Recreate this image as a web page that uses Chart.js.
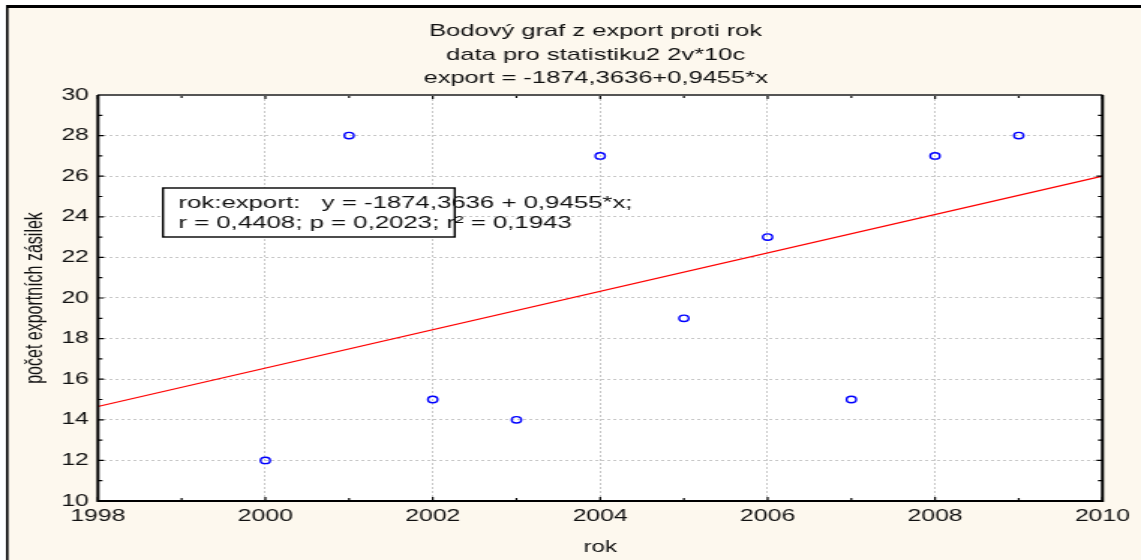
<!DOCTYPE html>
<html>
<head>
<meta charset="utf-8">
<script src="https://cdn.jsdelivr.net/npm/chart.js@4"></script>
<style>
html, body { margin: 0; padding: 0; background: #fff; overflow: hidden; }
/* the original picture is stretched sideways, so the chart is drawn narrow and scaled */
#wrap { width: 761px; height: 560px; transform: scaleX(1.49934); transform-origin: 0 0; }
</style>
</head>
<body>
<div id="wrap"><canvas id="chart"></canvas></div>
<script>
const years = [2000, 2001, 2002, 2003, 2004, 2005, 2006, 2007, 2008, 2009];
const exportCounts = [12, 28, 15, 14, 27, 19, 23, 15, 27, 28];
const xRange = [1998, 2010];
const yRange = [10, 30];
const titleLines = [
    'Bodový graf z export proti rok',
    'data pro statistiku2 2v*10c',
    'export = -1874,3636+0,9455*x'
];
const statLines = [
    'rok:export:   y = -1874,3636 + 0,9455*x;',
    'r = 0,4408; p = 0,2023; r² = 0,1943'
];
const FONT = "'Liberation Sans', Arial, sans-serif";

// least squares fit of the points
var n = years.length;
var mx = years.reduce((a, b) => a + b, 0) / n;
var my = exportCounts.reduce((a, b) => a + b, 0) / n;
var sxy = 0, sxx = 0;
for (var i = 0; i < n; i++) {
    sxy += (years[i] - mx) * (exportCounts[i] - my);
    sxx += (years[i] - mx) * (years[i] - mx);
}
var slope = sxy / sxx;
var intercept = my - slope * mx;
var fitLine = xRange.map(x => ({x: x, y: intercept + slope * x}));

const framePlugin = {
    id: 'frame',
    afterLayout(chart) {
        // title is centred over the plot, not the whole canvas
        const a = chart.chartArea;
        if (chart.titleBlock) {
            chart.titleBlock.left = a.left - 6;
            chart.titleBlock.right = a.right;
        }
    },
    beforeDraw(chart) {
        const c = chart.ctx;
        c.save();
        c.fillStyle = '#ffffff';
        c.fillRect(0, 0, chart.width, chart.height);
        c.fillStyle = '#fdf8ee';
        c.fillRect(4, 5, chart.width, chart.height);
        c.fillStyle = '#000';
        c.fillRect(4, 5, 1.6, chart.height);
        c.fillRect(4, 5, chart.width, 3);
        const a = chart.chartArea;
        c.fillStyle = '#ffffff';
        c.fillRect(a.left, a.top, a.right - a.left, a.bottom - a.top);
        c.restore();
    },
    beforeDatasetsDraw(chart) {
        // statistics box
        const c = chart.ctx;
        c.save();
        c.fillStyle = '#ffffff';
        c.fillRect(108.7, 188, 194.6, 49);
        c.strokeStyle = '#000';
        c.lineWidth = 1.4;
        c.strokeRect(108.7, 188, 194.6, 49);
        c.fillStyle = '#111';
        c.font = '17.2px ' + FONT;
        c.textBaseline = 'middle';
        c.fillText(statLines[0], 119, 203);
        c.fillText(statLines[1], 119, 223);
        c.restore();
    },
    afterDraw(chart) {
        const c = chart.ctx;
        const a = chart.chartArea;
        const xs = chart.scales.x, ys = chart.scales.y;
        c.save();
        c.strokeStyle = '#000';
        c.lineWidth = 1.2;
        c.beginPath();
        for (var v = xRange[0]; v <= xRange[1]; v++) {
            var px = xs.getPixelForValue(v);
            var len = (v % 2 === 0) ? 4 : 3;
            c.moveTo(px, a.bottom); c.lineTo(px, a.bottom - len);
            c.moveTo(px, a.top); c.lineTo(px, a.top + len);
        }
        for (var w = yRange[0]; w <= yRange[1]; w++) {
            var py = ys.getPixelForValue(w);
            var l2 = (w % 2 === 0) ? 4 : 3;
            c.moveTo(a.left, py); c.lineTo(a.left + l2, py);
            c.moveTo(a.right, py); c.lineTo(a.right - l2, py);
        }
        c.stroke();
        // plot box
        c.lineWidth = 2;
        c.strokeStyle = '#555';
        c.beginPath();
        c.moveTo(a.left, a.top); c.lineTo(a.right, a.top);
        c.stroke();
        c.strokeStyle = '#000';
        c.beginPath();
        c.moveTo(a.left, a.top); c.lineTo(a.left, a.bottom); c.lineTo(a.right, a.bottom); c.lineTo(a.right, a.top);
        c.stroke();
        c.restore();
    }
};

new Chart(document.getElementById('chart'), {
    type: 'scatter',
    data: {
        datasets: [{
            data: years.map((y, i) => ({x: y, y: exportCounts[i]})),
            pointStyle: 'circle',
            pointRadius: 3.2,
            borderWidth: 1.4,
            borderColor: '#0000ff',
            backgroundColor: 'rgba(0,0,0,0)'
        }, {
            type: 'line',
            data: fitLine,
            borderColor: '#ff0000',
            borderWidth: 1.3,
            pointRadius: 0,
            fill: false
        }]
    },
    options: {
        responsive: true,
        maintainAspectRatio: false,
        animation: false,
        events: [],
        layout: { padding: { left: 0, right: 25.7, top: 0, bottom: 0 } },
        plugins: {
            legend: { display: false },
            tooltip: { enabled: false },
            title: {
                display: true,
                text: titleLines,
                color: '#111',
                font: { family: FONT, size: 17, weight: 'normal', lineHeight: 1.38 },
                padding: { top: 20, bottom: 4.6 }
            }
        },
        scales: {
            x: {
                type: 'linear',
                min: xRange[0], max: xRange[1],
                ticks: {
                    stepSize: 2,
                    color: '#111',
                    padding: 6,
                    maxRotation: 0,
                    font: { family: FONT, size: 16.5 },
                    callback: v => String(v)
                },
                grid: { color: '#c8c8c8', lineWidth: 1, drawTicks: false },
                border: { display: false, dash: [2, 2] },
                title: {
                    display: true, text: 'rok', color: '#111',
                    font: { family: FONT, size: 16 },
                    padding: { top: 0, bottom: 2.4 }
                },
                afterFit: s => { s.height = 59; }
            },
            y: {
                min: yRange[0], max: yRange[1],
                ticks: {
                    stepSize: 2,
                    color: '#111',
                    padding: 6,
                    font: { family: FONT, size: 16.5 }
                },
                grid: { color: '#c8c8c8', lineWidth: 1, drawTicks: false },
                border: { display: false, dash: [2, 2] },
                title: {
                    display: true, text: 'počet exportních zásilek', color: '#111',
                    font: { family: FONT, size: 16 },
                    padding: { top: 13.7, bottom: 0 }
                },
                afterFit: s => { s.width = 65.3; }
            }
        }
    },
    plugins: [framePlugin]
});
</script>
</body>
</html>
